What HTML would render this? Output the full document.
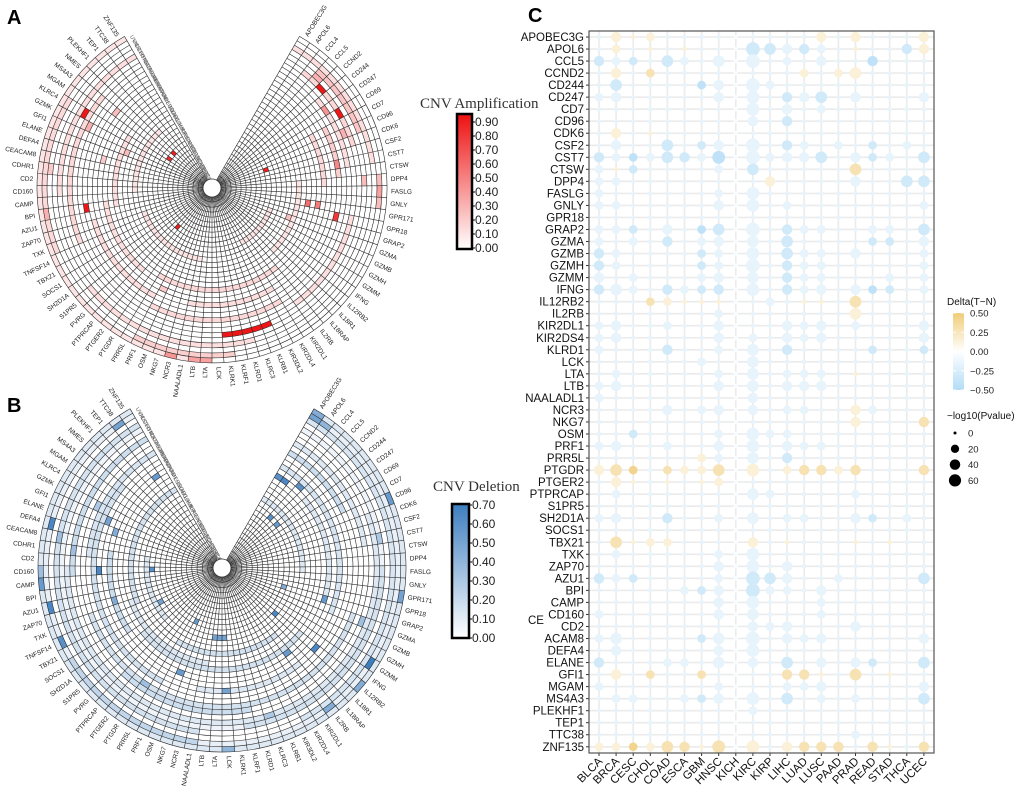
<!DOCTYPE html>
<html><head><meta charset="utf-8"><style>
html,body{margin:0;padding:0;background:#fff;}
svg{display:block;font-family:"Liberation Sans",Arial,sans-serif;}
</style></head><body>
<svg id="fig" width="1020" height="791" viewBox="0 0 1020 791" xmlns="http://www.w3.org/2000/svg">
<defs>
<linearGradient id="gradAmp" x1="0" y1="1" x2="0" y2="0"><stop offset="0" stop-color="#ffffff"/><stop offset="1" stop-color="#ee1111"/></linearGradient>
<linearGradient id="gradDel" x1="0" y1="1" x2="0" y2="0"><stop offset="0" stop-color="#ffffff"/><stop offset="1" stop-color="#3d7ebf"/></linearGradient>
<linearGradient id="gradDelta" x1="0" y1="1" x2="0" y2="0"><stop offset="0" stop-color="#b3dcf7"/><stop offset="0.5" stop-color="#ffffff"/><stop offset="1" stop-color="#f0cc78"/></linearGradient>
</defs>
<text x="7" y="24" font-size="20" font-weight="bold">A</text>
<text x="7" y="412" font-size="20" font-weight="bold">B</text>
<text x="528" y="22" font-size="20" font-weight="bold">C</text>
<g id="panelA"></g>
<g id="panelB"></g>
<g id="panelC"></g>
<g>
<text x="420" y="108" font-size="15" font-family="'Liberation Serif',serif" fill="#333">CNV Amplification</text>
<rect x="457" y="114" width="15" height="135" fill="url(#gradAmp)" stroke="#000" stroke-width="2.5"/>
<g id="ampTicks" font-size="12" fill="#222"></g>
</g>
<g>
<text x="433" y="491" font-size="15" font-family="'Liberation Serif',serif" fill="#333">CNV Deletion</text>
<rect x="452" y="504" width="17" height="134" fill="url(#gradDel)" stroke="#000" stroke-width="2.5"/>
<g id="delTicks" font-size="12" fill="#222"></g>
</g>
</svg>
<script>
// ---------- data ----------
const genes = ["APOBEC3G","APOL6","CCL4","CCL5","CCND2","CD244","CD247","CD69","CD7","CD96","CDK6","CSF2","CST7","CTSW","DPP4","FASLG","GNLY","GPR171","GPR18","GRAP2","GZMA","GZMB","GZMH","GZMM","IFNG","IL12RB2","IL18R1","IL18RAP","IL2RB","KIR2DL1","KIR2DL4","KIR3DL2","KLRB1","KLRC3","KLRD1","KLRF1","KLRK1","LCK","LTA","LTB","NAALADL1","NCR3","NKG7","OSM","PRF1","PRR5L","PTGDR","PTGER2","PTPRCAP","PVRG","S1PR5","SH2D1A","SOCS1","TBX21","TNFSF14","TXK","ZAP70","AZU1","BPI","CAMP","CD160","CD2","CDHR1","CEACAM8","DEFA4","ELANE","GFI1","GZMK","KLRC4","MGAM","MS4A3","NMES","PLEKHF1","TEP1","TTC38","ZNF135"];
const tcga = ["ACC","BLCA","BRCA","CESC","CHOL","COAD","DLBC","ESCA","GBM","HNSC","KICH","KIRC","KIRP","LAML","LGG","LIHC","LUAD","LUSC","MESO","OV","PAAD","PCPG","PRAD","READ","SARC","SKCM","STAD","TGCT","THCA","THYM","UCEC","UCS","UVM"];
const ampCells = [[4,27,0.88],[7,27,0.88],[68,27,0.88],[58,23,0.88],[18,23,0.75],[17,17,0.55],[17,19,0.5],[12,23,0.45],[10,9,0.85],[71,8,0.85],[69,8,0.8],[48,8,0.85],[15,31,0.35],[6,25,0.4],[58,31,0.3],[41,32,0.4],[39,32,0.35],[38,32,0.35],[67,25,0.3],[70,22,0.25],[64,20,0.2],[3,28,0.3],[9,26,0.3],[14,28,0.25],[62,30,0.2],[66,16,0.25],[20,14,0.25],[44,20,0.2]];
const ampCellsRed = [32,33,34,35,36];
const ampRuns = [[31,55,68,0.14],[32,40,75,0.1],[31,14,16,0.25],[23,8,13,0.18],[18,28,45,0.14],[21,30,40,0.12],[24,30,44,0.14],[29,34,50,0.12],[31,36,44,0.18],[26,55,70,0.14],[17,58,68,0.12],[27,2,10,0.15],[29,3,9,0.22],[25,5,12,0.12],[20,8,14,0.14],[10,20,30,0.1],[12,40,55,0.1],[30,0,12,0.12],[28,60,75,0.12],[22,45,56,0.12],[15,14,26,0.1],[19,48,58,0.12],[13,60,72,0.1],[26,18,28,0.12]];
const delCells = [[23,31,0.7],[25,21,0.65],[28,18,0.55],[25,11,0.65],[19,18,0.55],[17,32,0.5],[9,32,0.55],[0,18,0.6],[1,18,0.65],[3,19,0.6],[3,11,0.6],[5,11,0.55],[0,31,0.5],[0,32,0.45],[1,31,0.4],[64,31,0.65],[59,32,0.55],[57,31,0.65],[54,31,0.6],[60,21,0.65],[65,19,0.45],[66,21,0.5],[60,11,0.6],[74,19,0.55],[74,31,0.5],[56,19,0.45],[43,19,0.55],[38,11,0.5],[37,11,0.5],[39,11,0.5],[37,21,0.5],[37,32,0.4],[44,9,0.55],[53,11,0.5],[28,31,0.45],[25,32,0.45],[19,10,0.45],[60,32,0.35],[63,29,0.35],[62,26,0.35],[67,24,0.3],[20,26,0.35],[12,28,0.3],[46,24,0.35],[33,27,0.3]];
const delRuns = [[32,0,75,0.12],[31,0,75,0.08],[30,0,30,0.14],[29,40,75,0.15],[28,0,75,0.06],[27,10,60,0.12],[24,20,55,0.15],[22,45,70,0.15],[20,0,20,0.14],[17,25,50,0.15],[15,55,75,0.15],[13,0,15,0.12],[14,28,45,0.15],[26,60,75,0.18],[28,15,35,0.15],[25,35,48,0.18],[31,40,52,0.22],[23,0,8,0.18],[19,52,62,0.18],[21,28,40,0.12],[18,5,18,0.12],[16,40,55,0.12],[12,50,62,0.12],[25,0,12,0.12],[23,62,75,0.14]];

const cancersC = ["BLCA","BRCA","CESC","CHOL","COAD","ESCA","GBM","HNSC","KICH","KIRC","KIRP","LIHC","LUAD","LUSC","PAAD","PRAD","READ","STAD","THCA","UCEC"];
const rowsC = ["APOBEC3G","APOL6","CCL5","CCND2","CD244","CD247","CD7","CD96","CDK6","CSF2","CST7","CTSW","DPP4","FASLG","GNLY","GPR18","GRAP2","GZMA","GZMB","GZMH","GZMM","IFNG","IL12RB2","IL2RB","KIR2DL1","KIR2DS4","KLRD1","LCK","LTA","LTB","NAALADL1","NCR3","NKG7","OSM","PRF1","PRR5L","PTGDR","PTGER2","PTPRCAP","S1PR5","SH2D1A","SOCS1","TBX21","TXK","ZAP70","AZU1","BPI","CAMP","CD160","CD2","ACAM8","DEFA4","ELANE","GFI1","MGAM","MS4A3","PLEKHF1","TEP1","TTC38","ZNF135"];
const sizeRows = ["13121111111113131113","12111111164332111133","32214214161213113111","13121111111121241111","14111123162111111111","23111113151334131113","11111111151312111111","11111111131311111111","13111111111111111111","13114123161321212121","32224325162334132214","21211112141111141111","22111111113111131144","21111112151111111111","22111113151211111112","11111111111111111111","22213124161322112214","21213123141411112213","32111122151422131112","32111122161322111112","31211123141322111212","34213223151323132212","11122111112111141111","11111112111111141111","23112113111323121113","23111113121323111113","21113112141311112112","11111121141111111111","12111112141222111111","23111113141333111111","21111111131111111111","11113123131221132111","11111111111111131113","11211112152211111111","23112113151322111111","11111122141311111111","34212224151233231113","13111112111111111111","12111111142111121111","11111111111111111111","23113112141221132121","11111111111111111111","14122111131111111111","12111112151111111111","11111113151311111111","32211112164311211114","11111223162213111111","11111113151112111111","21111113141112111111","11111111132311131111","24111124161323111113","13111113151111111111","31112214131413132114","13121121111331141111","21111112111223111113","12211223151412121114","11111111121111111111","11111111111111111111","11111111111111121111","22224315151333313113"];
const deltaRows = ["aAAAaaaa0aaaaAaAaaaA","aAaAaAaa0bbabaaAaabA","bababaaa0aaaaaaacaaa","aAaBaaaa0aaaAaAAaaaa","abaaaaca0aaaaaaaaaaa","aaaaaaaa0aababaaaaaa","aaaaaaaa0aaaaaaaaaaa","aaaaaaaa0aabaaaaaaaa","aAaAaaaa0aaaaaaaaaaa","aaaababa0aabaaaabaaa","bacabbac0aaaabaabaab","aAbaaaaa0baaaaaBaaaa","aaaaaaaa0aAaaaaaaabb","aaaaaaaa0aaaaaaaaaaa","aaaaaaaa0aaaaaaaaaaa","aaaaaaaa0aaaaaaaaaaa","aabaaacb0aabaaaaaaab","aaaabaaa0aabaaaabbaa","baaaaaba0aabaaaaaaaa","baaaaaba0aabaaaaaaaa","aaaaaaaa0aabaaaaaaaa","baaababb0aabaaaacbaa","aaaBAAAA0aaaAAaBaaaa","aaaaaaaa0aaaaaaAaaaa","aaaaaaaa0aaaaaaaaaaa","aaaaaaaa0aaaaaaaaaaa","aaaabaaa0aabaaaabaab","aaaaaaaa0aaaaaaaaaaa","aaaaaaaa0aaaaaaAaaaa","aaaaaaaa0aaaaaaaaaaa","aaaaaaaa0aaaaaaaaaaa","aaaaaaaa0aaaaaaAaaaa","aaaaaaaa0aaaaaaAaaaB","aabaaaaa0aaaaaaaaaaa","aaaaaaaa0aaaaaaaaaaa","aaaaaaAa0aabaaaaaaaa","ABCaBAAB0AaABBABaaaB","aAAaAaAA0aaaaaaaaaaa","aaaaaaaa0aaaaaaaaaaa","aaaaaaaa0aaaaaaaaaaa","aaaabaaa0aaaaaaabaaa","aaaaaaaa0aaaaaaaaaaa","aBAAAaaa0AaAaaaAaAaa","aaaaaaaa0aaaaaaaaaaa","aaaaaaaa0aaaaaaaaaaa","babaaaaa0bbaaaaaaaab","aaaaaaba0baaaaaaaaaa","aaaaaaaa0aaaaaaaaaaa","aaaaaaaa0aaaaaaaaaaa","aaaaaaaa0aaaaaaaaaaa","aaaaaaba0aaaaaaaaaaa","aaaaaaaa0aaaaaaaaaaa","baaaaaaa0aabaaaabaab","aAaBaaBa0aaBBAaBaAaa","aaaaaaaa0aaaaaaaaaaa","aaaaaaba0aabaaaaaaab","aaaaaaaa0aaaaaaaaaaa","aaaaaaaa0aaaaaaaaaaa","aaaaaaaa0aaaaaaaaaaa","AACABBAB0AaABBBaBAaB"];
const deltaCode = {a:-0.16,b:-0.3,c:-0.42,"0":-0.04,A:0.14,B:0.28,C:0.42};
const deltaTicks = [0.5,0.25,0,-0.25,-0.5];
const sizeTicks = [0,20,40,60];
const ampTicks = [0.9,0.8,0.7,0.6,0.5,0.4,0.3,0.2,0.1,0];
const delTicks = [0.7,0.6,0.5,0.4,0.3,0.2,0.1,0];

// ---------- helpers ----------
const NS="http://www.w3.org/2000/svg";
function mk(tag,attrs,parent){const e=document.createElementNS(NS,tag);for(const k in attrs)e.setAttribute(k,attrs[k]);if(parent)parent.appendChild(e);return e;}
function pt(cx,cy,r,th){const a=th*Math.PI/180;return [cx+r*Math.sin(a),cy-r*Math.cos(a)];}
function mix(c,t){return "rgb("+c.map(v=>Math.round(255+(v-255)*Math.min(1,Math.max(0,t)))).join(",")+")";}

function drawCircos(gid,cx,cy,R,r0,cells,runs,redGenes,maxV,col){
  const g=document.getElementById(gid);
  const N=genes.length,K=tcga.length,start=30,span=300,sa=span/N,rw=(R-r0)/K;
  const gAng=i=>start+i*sa;
  const rad=k=>r0+k*rw;
  function sector(k,v,gs,ge){
    const t1=gAng(gs),t2=gAng(ge+1),ri=rad(k),ro=rad(k+1);
    const p1=pt(cx,cy,ro,t1),p2=pt(cx,cy,ro,t2),p3=pt(cx,cy,ri,t2),p4=pt(cx,cy,ri,t1);
    const lg=(t2-t1)>180?1:0;
    return mk("path",{d:`M${p1[0].toFixed(1)},${p1[1].toFixed(1)}A${ro},${ro} 0 ${lg} 1 ${p2[0].toFixed(1)},${p2[1].toFixed(1)}L${p3[0].toFixed(1)},${p3[1].toFixed(1)}A${ri},${ri} 0 ${lg} 0 ${p4[0].toFixed(1)},${p4[1].toFixed(1)}Z`,fill:mix(col,v/maxV)},g);
  }
  runs.forEach(r=>{const p=sector(r[0],r[3],r[1],r[2]);
    
    });
  cells.forEach(c=>{const p=sector(c[1],c[2],c[0],c[0]);
    
    });
  redGenes.forEach(gi=>{const p=sector(27,0.88,gi,gi);
    
    });
  const gl=mk("g",{stroke:"#2a2a2a","stroke-width":"0.6",fill:"none"},g);
  for(let k=0;k<=K;k++){const r=rad(k);const a=pt(cx,cy,r,start),b=pt(cx,cy,r,start+span);
    mk("path",{d:`M${a[0].toFixed(1)},${a[1].toFixed(1)}A${r},${r} 0 1 1 ${b[0].toFixed(1)},${b[1].toFixed(1)}`},gl);}
  for(let i=0;i<=N;i++){const a=pt(cx,cy,r0,gAng(i)),b=pt(cx,cy,R,gAng(i));
    mk("line",{x1:a[0].toFixed(1),y1:a[1].toFixed(1),x2:b[0].toFixed(1),y2:b[1].toFixed(1)},gl);}
  genes.forEach((name,i)=>{const th=gAng(i+0.5);const p=pt(cx,cy,R+4,th);
    const left=th>180;const rot=left?th+90:th-90;
    const t=mk("text",{x:p[0].toFixed(1),y:p[1].toFixed(1),"font-size":"6.5",fill:"#222","text-anchor":left?"end":"start","dominant-baseline":"middle",transform:`rotate(${rot.toFixed(1)} ${p[0].toFixed(1)} ${p[1].toFixed(1)})`},g);
    t.textContent=name;
    
    });
  tcga.forEach((name,k)=>{const p=pt(cx,cy,rad(k+0.5),start+span+1.5);
    const t=mk("text",{x:p[0].toFixed(1),y:p[1].toFixed(1),"font-size":"5.5",fill:"#666","text-anchor":"start",transform:`rotate(60 ${p[0].toFixed(1)} ${p[1].toFixed(1)})`},g);
    t.textContent=name;
    
    });
  mk("circle",{cx:cx,cy:cy,r:r0,fill:"#fff",stroke:"#333","stroke-width":"0.8"},g);
}
drawCircos("panelA",212,188,175,9,ampCells,ampRuns,ampCellsRed,0.9,[238,17,17]);
drawCircos("panelB",222,568,184,9,delCells,delRuns,[],0.7,[61,126,191]);

function ticks(gid,vals,x,y0,y1,vmax){const g=document.getElementById(gid);
  vals.forEach(v=>{const y=y1-(v/vmax)*(y1-y0);
    mk("line",{x1:x,y1:y,x2:x+3,y2:y,stroke:"#000","stroke-width":"1"},g);
    const t=mk("text",{x:x+3,y:y+4},g);t.textContent=v.toFixed(2);
    
    });}
ticks("ampTicks",ampTicks,472,122,248,0.9);
ticks("delTicks",delTicks,469,505,638,0.7);

// ---------- panel C ----------
(function(){
  const g=document.getElementById("panelC");
  const X0=589,X1=934,Y0=31,Y1=753;
  const xs=i=>599+i*17.1;
  const ys=j=>37+j*12.03;
  const rScale=v=>2.3+Math.sqrt(v/60)*4.6;
  function dcol(d){const t=Math.abs(d)/0.5;return d<0?mix([179,220,247],t):mix([240,204,120],t);}
  mk("rect",{x:X0,y:Y0,width:X1-X0,height:Y1-Y0,fill:"#fff"},g);
  const gg=mk("g",{stroke:"#ebebeb","stroke-width":"1.6"},g);
  cancersC.forEach((c,i)=>mk("line",{x1:xs(i),y1:Y0,x2:xs(i),y2:Y1},gg));
  rowsC.forEach((r,j)=>mk("line",{x1:X0,y1:ys(j),x2:X1,y2:ys(j)},gg));
  rowsC.forEach((name,j)=>{
    for(let i=0;i<cancersC.length;i++){
      const lv=+sizeRows[j][i];const lp=(lv-1)*12;const d=deltaCode[deltaRows[j][i]];
      const c=mk("circle",{cx:xs(i).toFixed(1),cy:ys(j).toFixed(1),r:rScale(lp).toFixed(2),fill:dcol(d)},g);
      
      
    }
    mk("line",{x1:X0-3,y1:ys(j),x2:X0,y2:ys(j),stroke:"#333","stroke-width":"1"},g);
    const t=mk("text",{x:X0-5,y:ys(j)+4,"font-size":"11.5","text-anchor":"end",fill:"#111"},g);
    t.textContent=name;
    
    
  });
  const ce=mk("text",{x:528,y:624,"font-size":"11.5",fill:"#111"},g);ce.textContent="CE";
  
  
  cancersC.forEach((name,i)=>{
    mk("line",{x1:xs(i),y1:Y1,x2:xs(i),y2:Y1+3,stroke:"#333","stroke-width":"1"},g);
    const x=xs(i)+4,y=Y1+9;
    const t=mk("text",{x:x,y:y,"font-size":"11.5","text-anchor":"end",fill:"#111",transform:`rotate(-45 ${x} ${y})`},g);
    t.textContent=name;
    
    
  });
  mk("rect",{x:X0,y:Y0,width:X1-X0,height:Y1-Y0,fill:"none",stroke:"#555","stroke-width":"1.2"},g);
  const lg=mk("g",{},g);
  
  
  let t=mk("text",{x:947,y:305,"font-size":"10",fill:"#111"},lg);t.textContent="Delta(T\u2212N)";
  mk("rect",{x:953,y:313,width:11,height:77,fill:"url(#gradDelta)"},lg);
  deltaTicks.forEach(v=>{const y=351.5-v*2*38.5;
    mk("line",{x1:953,y1:y,x2:956,y2:y,stroke:"#fff"},lg);
    mk("line",{x1:961,y1:y,x2:964,y2:y,stroke:"#fff"},lg);
    const tt=mk("text",{x:970,y:y+3.5,"font-size":"9.5",fill:"#222"},lg);
    tt.textContent=(v<0?"\u2212":"")+Math.abs(v).toFixed(2);
    
    });
  const sg=mk("g",{},g);
  
  
  t=mk("text",{x:947,y:419,"font-size":"10",fill:"#111"},sg);t.textContent="\u2212log10(Pvalue)";
  const legR=v=>1.5+Math.sqrt(v/60)*4.6;
  sizeTicks.forEach((v,k)=>{const y=433+k*15.8;
    mk("circle",{cx:955,cy:y,r:legR(v).toFixed(2),fill:"#000"},sg);
    const tt=mk("text",{x:968,y:y+3.5,"font-size":"9.5",fill:"#222"},sg);tt.textContent=v;
    
    });
})();
</script>
</body></html>
